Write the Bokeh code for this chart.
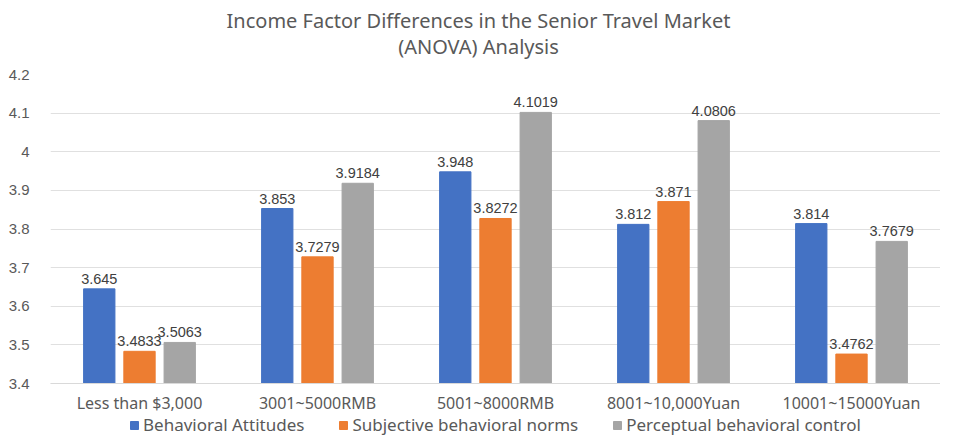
from bokeh.plotting import figure
from bokeh.layouts import column
from bokeh.models import ColumnDataSource, FactorRange, Range1d, Legend, LegendItem, Label, SingleIntervalTicker
from bokeh.transform import dodge
from bokeh.core.properties import value
from bokeh.embed import file_html
from bokeh.resources import INLINE

categories = ["Less than $3,000", "3001~5000RMB", "5001~8000RMB", "8001~10,000Yuan", "10001~15000Yuan"]
series_names = ["Behavioral Attitudes", "Subjective behavioral norms", "Perceptual behavioral control"]
attitudes = [3.645, 3.853, 3.948, 3.812, 3.814]
norms = [3.4833, 3.7279, 3.8272, 3.871, 3.4762]
control = [3.5063, 3.9184, 4.1019, 4.0806, 3.7679]
attitudes_labels = ["3.645", "3.853", "3.948", "3.812", "3.814"]
norms_labels = ["3.4833", "3.7279", "3.8272", "3.871", "3.4762"]
control_labels = ["3.5063", "3.9184", "4.1019", "4.0806", "3.7679"]
colors = ["#4472C4", "#ED7D31", "#A5A5A5"]
title_lines = ["Income Factor Differences in the Senior Travel Market", "(ANOVA) Analysis"]

src = ColumnDataSource(dict(cat=categories, a=attitudes, n=norms, c=control,
                            al=attitudes_labels, nl=norms_labels, cl=control_labels,
                            base=[3.4] * len(categories)))
x_range = FactorRange(*categories, range_padding=0)
offsets = [-0.226, 0.0, 0.226]
fields = ["a", "n", "c"]
label_fields = ["al", "nl", "cl"]

# title strip
tt = figure(width=940, height=62, output_backend="svg", toolbar_location=None,
            x_range=Range1d(0, 1), y_range=Range1d(0, 1),
            min_border_left=0, min_border_right=0, min_border_top=0, min_border_bottom=0)
tt.axis.visible = False
tt.grid.grid_line_color = None
tt.outline_line_color = None
tt.title.visible = False
for txt, yy in zip(title_lines, [42, 16]):
    tt.add_layout(Label(x=428, y=yy, x_units="screen", y_units="screen", text=txt,
                        text_align="center", text_baseline="middle", text_font="Noto Sans",
                        text_font_size="20px", text_color="#595959"))

# main chart
p = figure(x_range=x_range, y_range=Range1d(3.4, 4.2),
           width=940, height=354, output_backend="svg", toolbar_location=None,
           min_border_left=50, min_border_right=0, min_border_top=12, min_border_bottom=0)
p.title.visible = False

for off, f, lf, col in zip(offsets, fields, label_fields, colors):
    p.vbar(x=dodge("cat", off, range=p.x_range), top=f, bottom="base", width=0.176,
           source=src, fill_color=col, line_color=col)
    p.text(x=dodge("cat", off, range=p.x_range), y=f, text=lf, source=src,
           text_align="center", text_baseline="bottom", y_offset=-5,
           text_font=value("Liberation Sans"), text_font_size="14.5px", text_color="#404040")

p.yaxis.ticker = SingleIntervalTicker(interval=0.1)
p.yaxis.axis_line_color = None
p.yaxis.major_tick_line_color = None
p.yaxis.minor_tick_line_color = None
p.yaxis.major_label_text_font = "Liberation Sans"
p.yaxis.major_label_text_font_size = "15px"
p.yaxis.major_label_text_color = "#595959"
p.yaxis.major_label_standoff = 15

p.xaxis.axis_line_color = "#D9D9D9"
p.xaxis.major_tick_line_color = None
p.xaxis.minor_tick_line_color = None
p.xaxis.major_label_text_font = "Noto Sans"
p.xaxis.major_label_text_font_size = "16px"
p.xaxis.major_label_text_color = "#595959"
p.xaxis.major_label_standoff = 2

p.xgrid.grid_line_color = None
p.ygrid.grid_line_color = "#E0E0E0"
p.outline_line_color = None

# legend strip (its bars lie far outside its y range, so only the legend shows)
lg = figure(width=940, height=20, output_backend="svg", toolbar_location=None,
            x_range=x_range, y_range=Range1d(100, 101),
            min_border_left=0, min_border_right=0, min_border_top=0, min_border_bottom=0)
lg.axis.visible = False
lg.grid.grid_line_color = None
lg.outline_line_color = None
lg.title.visible = False
lrs = []
for off, f, col in zip(offsets, fields, colors):
    lrs.append(lg.vbar(x=dodge("cat", off, range=x_range), top=f, bottom="base", width=0.176,
                       source=src, fill_color=col, line_color=col))
legend = Legend(items=[LegendItem(label=n, renderers=[r]) for n, r in zip(series_names, lrs)],
                orientation="horizontal", location=(79, 0), glyph_width=10, glyph_height=10,
                label_text_font="Noto Sans", label_text_font_size="17px", label_text_color="#595959",
                spacing=34, padding=0, margin=0, border_line_color=None, background_fill_alpha=0,
                label_standoff=4)
lg.add_layout(legend, "center")

layout = column(tt, p, lg, spacing=0)
open("out.html", "w").write(file_html(layout, INLINE))
